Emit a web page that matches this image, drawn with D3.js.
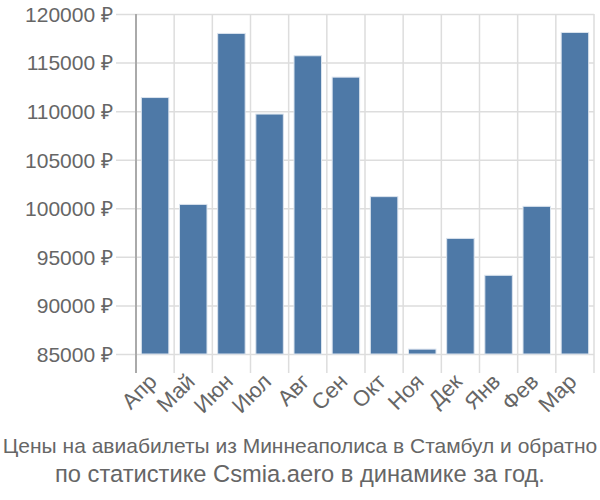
<!DOCTYPE html>
<html>
<head>
<meta charset="utf-8">
<script src="https://cdn.jsdelivr.net/npm/d3@7"></script>
<style>
  html, body { margin: 0; padding: 0; background: #fff; }
  svg { display: block; font-family: "Liberation Sans", Arial, sans-serif; }
</style>
</head>
<body>
<svg id="chart" width="600" height="500"></svg>
<script>
const months = ["Апр", "Май", "Июн", "Июл", "Авг", "Сен", "Окт", "Ноя", "Дек", "Янв", "Фев", "Мар"];
const prices = [111400, 100400, 118000, 109700, 115700, 113500, 101200, 85500, 96900, 93100, 100200, 118100];
const yTicks = [85000, 90000, 95000, 100000, 105000, 110000, 115000, 120000];
const titleLines = ["Цены на авиабилеты из Миннеаполиса в Стамбул и обратно", "по статистике Csmia.aero в динамике за год."];

(function () {
const svg = d3.select("#chart");
const pLeft = 136, pRight = 594, pTop = 14, pBottom = 354;
const tickLen = 20;

const x = d3.scaleBand().domain(months).range([pLeft, pRight]).paddingInner(0.28).paddingOuter(0.14);
const y = d3.scaleLinear().domain([85000, 120000]).range([pBottom, pTop]);

// horizontal grid + y ticks
const yAxis = d3.axisLeft(y).tickValues(yTicks).tickSize(0).tickPadding(0)
  .tickFormat(d => d + " ₽");
const gy = svg.append("g").attr("transform", `translate(${pLeft - tickLen},0)`).call(yAxis);
gy.select(".domain").remove();
gy.selectAll(".tick line").attr("x1", 0).attr("x2", pRight - pLeft + tickLen).attr("stroke", "#ddd").attr("stroke-width", 1.5);
gy.selectAll(".tick text").attr("x", -3).attr("fill", "#666").attr("font-size", 21).attr("dy", "0.35em");

// vertical grid lines at band boundaries
const edges = d3.range(months.length + 1).map(i => pLeft + i * (pRight - pLeft) / months.length);
svg.append("g").selectAll("line").data(edges).join("line")
  .attr("x1", d => d).attr("x2", d => d)
  .attr("y1", pTop).attr("y2", pBottom + tickLen - 1)
  .attr("stroke", (d, i) => i === 0 ? "#aaa" : "#ddd")
  .attr("stroke-width", (d, i) => i === 0 ? 2 : 1.5);

// bars
svg.append("g").selectAll("rect").data(prices).join("rect")
  .attr("x", (d, i) => x(months[i]))
  .attr("width", x.bandwidth())
  .attr("y", d => y(d))
  .attr("height", d => pBottom - y(d))
  .attr("fill", "#4e79a7")
  .attr("stroke", "#dbe4ee")
  .attr("stroke-width", 1);

// x labels
const xAxis = d3.axisBottom(x).tickSize(0).tickPadding(0);
const gx = svg.append("g").attr("transform", `translate(0,${pBottom})`).call(xAxis);
gx.select(".domain").remove();
gx.selectAll(".tick text")
  .attr("font-size", 22).attr("fill", "#666")
  .attr("text-anchor", "end")
  .attr("dy", 0)
  .attr("transform", "translate(3,29) rotate(-45)");

// title
svg.append("g").selectAll("text").data(titleLines).join("text")
  .attr("x", 300).attr("y", (d, i) => i === 0 ? 453 : 482)
  .attr("text-anchor", "middle")
  .attr("font-size", (d, i) => i === 0 ? 21 : 23.7).attr("fill", "#666")
  .text(d => d);
})();
</script>
</body>
</html>
